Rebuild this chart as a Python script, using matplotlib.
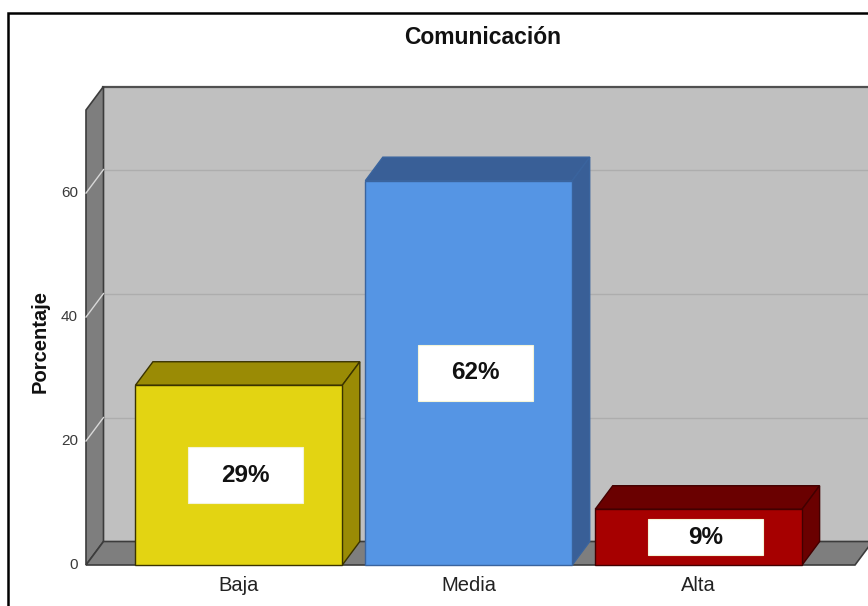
import matplotlib
matplotlib.use("Agg")
import matplotlib.pyplot as plt
from matplotlib import font_manager
from matplotlib.patches import Polygon, Rectangle

# ---- data ----
categories = ["Baja", "Media", "Alta"]
percentages = [29, 62, 9]
value_labels = ["29%", "62%", "9%"]
y_ticks = [0, 20, 40, 60]
title = "Comunicación"
y_label = "Porcentaje"

# ---- style ----
front_colors = ["#e3d412", "#5595e4", "#a60000"]
shade_colors = ["#9a8b05", "#395f97", "#6a0000"]
edge_colors = ["#3a3300", "#3a649e", "#420000"]
wall_back = "#c0c0c0"
wall_side = "#7e7e7e"

available = {f.name for f in font_manager.fontManager.ttflist}
narrow = "Liberation Sans Narrow" if "Liberation Sans Narrow" in available else "Liberation Sans"
plt.rcParams["font.family"] = ["Liberation Sans", "DejaVu Sans"]

W, H = 868, 606
fig = plt.figure(figsize=(W / 100, H / 100), dpi=100)
fig.patch.set_facecolor("white")

# front plane of the 3-D box, in pixels
px_left, px_right, px_zero, px_top = 86, 855, 565, 110
ax = fig.add_axes([px_left / W, (H - px_zero) / H,
                   (px_right - px_left) / W, (px_zero - px_top) / H])
x0, x1 = -0.665, 2.68
ymax = 73.4
ax.set_xlim(x0, x1)
ax.set_ylim(0, ymax)
ax.axis("off")

# depth offset of the back plane (data units)
DX = 17.5 / 230
DY = 23.5 / 6.2

def poly(pts, fc, ec, lw=1.0, z=1):
    ax.add_patch(Polygon(pts, closed=True, facecolor=fc, edgecolor=ec,
                         linewidth=lw, clip_on=False, zorder=z, joinstyle="miter"))

# back wall
poly([(x0 + DX, DY), (x1 + DX, DY), (x1 + DX, ymax + DY), (x0 + DX, ymax + DY)],
     wall_back, "none", z=1)
ax.plot([x0 + DX, x1 + DX], [ymax + DY, ymax + DY], color="#505050", lw=1.6,
        clip_on=False, zorder=2)
# gridlines on the back wall
for t in y_ticks[1:]:
    ax.plot([x0 + DX, x1 + DX], [t + DY, t + DY], color="#adadad", lw=1.0,
            clip_on=False, zorder=2)
# left wall
poly([(x0, 0), (x0 + DX, DY), (x0 + DX, ymax + DY), (x0, ymax)],
     wall_side, "#3c3c3c", lw=1.2, z=3)
# floor
poly([(x0, 0), (x1, 0), (x1 + DX, DY), (x0 + DX, DY)],
     wall_side, "#3c3c3c", lw=1.2, z=3)
# tick connectors and labels
for t in y_ticks:
    if t > 0:
        ax.plot([x0, x0 + DX], [t, t + DY], color="#d8d8d8", lw=1.0,
                clip_on=False, zorder=4)
    ax.text(x0 - 0.035, t, str(t), ha="right", va="center", fontsize=11,
            family=narrow, color="#3a3a3a", clip_on=False)

# bars
bw = 0.9
for i, (v, fc, sc, ec) in enumerate(zip(percentages, front_colors, shade_colors, edge_colors)):
    l, r = i - bw / 2, i + bw / 2
    z = 10 + i
    poly([(l, v), (r, v), (r + DX, v + DY), (l + DX, v + DY)], sc, ec, z=z)
    poly([(r, 0), (r + DX, DY), (r + DX, v + DY), (r, v)], sc, ec, z=z)
    poly([(l, 0), (r, 0), (r, v), (l, v)], fc, ec, z=z)
    # value label box
    bh = min(9.0, 0.65 * v)
    bxw = 0.5
    cx = i + 0.03
    ax.add_patch(Rectangle((cx - bxw / 2, v / 2 - bh / 2), bxw, bh,
                           facecolor="white", edgecolor="#f4f4d8", lw=0.8,
                           clip_on=False, zorder=z + 0.5))
    ax.text(cx, v / 2, value_labels[i], ha="center", va="center",
            fontsize=17.5, fontweight="bold", color="#111111", zorder=z + 0.6)
    # category label
    ax.annotate(categories[i], (i, 0), xytext=(0, -15), textcoords="offset points",
                ha="center", va="center", fontsize=14.5, family=narrow,
                color="#222222", annotation_clip=False)

# titles
fig.text(483 / W, 1 - 37 / H, title, ha="center", va="center",
         fontsize=16.5, fontweight="bold", color="#111111")
fig.text(40 / W, 1 - 342 / H, y_label, ha="center", va="center", rotation=90,
         fontsize=14.5, fontweight="bold", color="#111111")

# outer frame
fig.add_artist(Rectangle((8 / W, -0.05), 1.1, 1.05 - 13 / H, transform=fig.transFigure,
                         facecolor="none", edgecolor="black", lw=1.8, clip_on=False))

fig.savefig("out.png", dpi=100)
